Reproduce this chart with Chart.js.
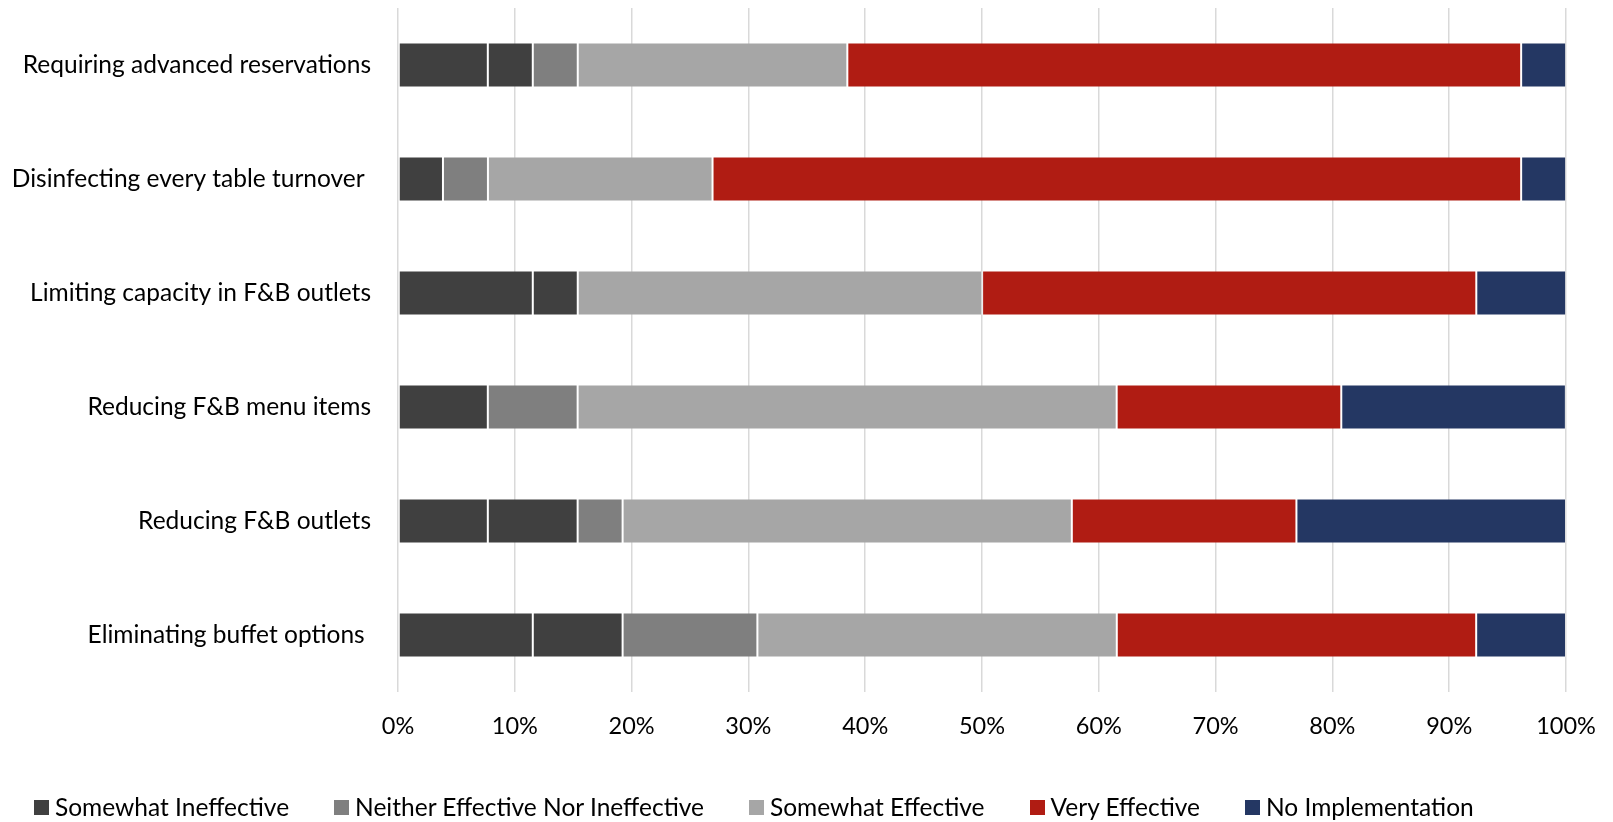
<!DOCTYPE html>
<html lang="en">
<head>
    <title>F&amp;B measures</title>
    <meta charset="utf-8">
    <script src="https://cdn.jsdelivr.net/npm/chart.js@4.4.1/dist/chart.umd.min.js"></script>
    <style>
        html, body { margin: 0; padding: 0; background: #fff; }
        #wrap { position: relative; width: 1613px; height: 822px; }
        #fb-chart { display: block; }
        #legend { position: absolute; left: 34px; top: 794px; display: flex; gap: 45px;
                  font-family: Lato, sans-serif; font-size: 24.5px; color: #000; line-height: 26px; }
        #legend .item { display: flex; align-items: center; white-space: nowrap; }
        #legend .box { width: 15px; height: 15px; margin-right: 6px; }
    </style>
</head>
<body>
<div id="wrap">
    <canvas id="fb-chart" width="1613" height="822"></canvas>
    <div id="legend"></div>
</div>
<script>
const measures = [
    "Requiring advanced reservations",
    "Disinfecting every table turnover ",
    "Limiting capacity in F&B outlets",
    "Reducing F&B menu items",
    "Reducing F&B outlets",
    "Eliminating buffet options "
];
// share of respondents, percent
const veryIneffective     = [7.69, 0, 11.54, 0, 7.69, 11.54];
const somewhatIneffective = [3.85, 3.85, 3.85, 7.69, 7.69, 7.69];
const neitherEffective    = [3.85, 3.85, 0, 7.69, 3.85, 11.54];
const somewhatEffective   = [23.08, 19.23, 34.62, 46.15, 38.46, 30.77];
const veryEffective       = [57.69, 69.23, 42.31, 19.23, 19.23, 30.77];
const noImplementation    = [3.85, 3.85, 7.69, 19.23, 23.08, 7.69];
const percentTicks = [0, 10, 20, 30, 40, 50, 60, 70, 80, 90, 100];

const font = "Lato, sans-serif";

function series(label, data, color, inLegend) {
    return {
        label: label, data: data, backgroundColor: color,
        borderColor: "rgba(255,255,255,0.15)", borderWidth: 1, borderSkipped: false,
        inLegend: inLegend
    };
}

// scales reserve room for half a label plus tick padding at their ends; not wanted here
function dropEndPadding(axis) {
    axis.paddingTop = 0; axis.paddingBottom = 0;
    axis.paddingLeft = 0; axis.paddingRight = 0;
}

const chart = new Chart("fb-chart", {
    type: "bar",
    data: {
        labels: measures,
        datasets: [
            series("Very Ineffective", veryIneffective, "#404040", false),
            series("Somewhat Ineffective", somewhatIneffective, "#404040", true),
            series("Neither Effective Nor Ineffective", neitherEffective, "#7f7f7f", true),
            series("Somewhat Effective", somewhatEffective, "#a6a6a6", true),
            series("Very Effective", veryEffective, "#b01c13", true),
            series("No Implementation", noImplementation, "#243763", true)
        ]
    },
    options: {
        indexAxis: "y",
        responsive: false,
        animation: false,
        categoryPercentage: 1,
        barPercentage: 0.395,
        layout: { autoPadding: false, padding: { top: 8, right: 47, bottom: 84, left: 0 } },
        plugins: { legend: { display: false }, tooltip: { enabled: false } },
        scales: {
            x: {
                stacked: true, min: 0, max: 100,
                afterBuildTicks: (axis) => { axis.ticks = percentTicks.map(v => ({ value: v })); },
                afterFit: (axis) => { axis.height = 46; dropEndPadding(axis); },
                grid: { color: "#d9d9d9", lineWidth: 1.5, drawTicks: false },
                border: { display: false },
                ticks: { padding: 20, color: "#000", font: { family: font, size: 23.5 },
                         callback: v => v + "%" }
            },
            y: {
                stacked: true,
                afterFit: (axis) => { axis.width = 398; dropEndPadding(axis); },
                grid: { display: false, drawTicks: false },
                border: { display: false },
                ticks: { padding: 27, color: "#000", font: { family: font, size: 24.5 } }
            }
        }
    }
});

// legend built from the datasets, the duplicate dark series is left out
let legendHtml = "";
chart.data.datasets.forEach(ds => {
    if (!ds.inLegend) return;
    legendHtml += '<div class="item"><span class="box" style="background:' + ds.backgroundColor + '"></span>' + ds.label + '</div>';
});
document.getElementById("legend").innerHTML = legendHtml;
</script>
</body>
</html>
